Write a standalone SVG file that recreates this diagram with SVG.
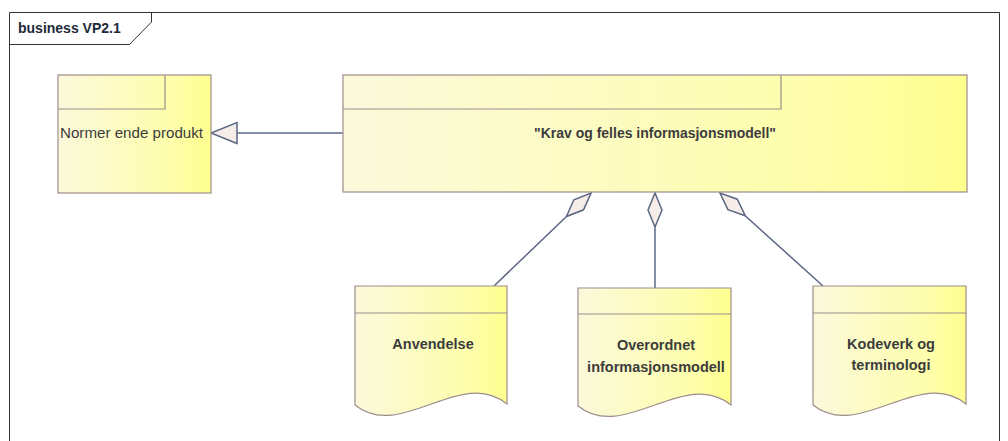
<svg xmlns="http://www.w3.org/2000/svg" width="1008" height="441" viewBox="0 0 1008 441">
<style>
.node{fill:url(#yel);stroke:#9e8c8c;stroke-width:1.2}
.ln{fill:none;stroke:#9e8c8c;stroke-width:1.2}
.con{fill:none;stroke:#5b6883;stroke-width:1.5}
.t{font-family:"Liberation Sans",Arial,sans-serif;fill:#3c3c3c;text-anchor:middle}
.b{font-weight:bold}
</style>
<defs>
<linearGradient id="yel" x1="0" y1="0" x2="1" y2="0">
<stop offset="0" stop-color="#fbf9db"/>
<stop offset="0.75" stop-color="#fefeac"/>
<stop offset="1" stop-color="#ffff8f"/>
</linearGradient>
<marker id="dia" viewBox="0 -8 35 16" refX="34" refY="0" markerWidth="35" markerHeight="16" markerUnits="userSpaceOnUse" orient="auto">
<path d="M0,0 L17,-7 L34,0 L17,7 Z" fill="#f6ece8" stroke="#5b6883" stroke-width="1.5"/>
</marker>
<marker id="gen" viewBox="-1 -12 29 24" refX="26" refY="0" markerWidth="29" markerHeight="24" markerUnits="userSpaceOnUse" orient="auto">
<path d="M0,-10.5 L26,0 L0,10.5 Z" fill="#f6ece8" stroke="#5b6883" stroke-width="1.5"/>
</marker>
</defs>
<rect width="1008" height="441" fill="#ffffff"/>
<g id="frame">
<path d="M9.5,445 V12.5 H999.5 V445" fill="none" stroke="#333333" stroke-width="1"/>
<path d="M9.5,44.5 H129.5 L151.5,22 V12.5" fill="none" stroke="#333333" stroke-width="1"/>
<text x="18" y="33" font-family="Liberation Sans,Arial,sans-serif" font-size="14" font-weight="bold" fill="#1e2a3a">business VP2.1</text>
</g>
<g id="connectors">
<line class="con" x1="343" y1="133" x2="211" y2="133" marker-end="url(#gen)"/>
<line class="con" x1="494" y1="286" x2="591" y2="193" marker-end="url(#dia)"/>
<line class="con" x1="655" y1="288" x2="655" y2="193" marker-end="url(#dia)"/>
<line class="con" x1="823" y1="286" x2="720" y2="193" marker-end="url(#dia)"/>
</g>
<g id="normerende">
<rect class="node" x="58" y="75" width="153" height="118"/>
<path class="ln" d="M58,109 H165 V75"/>
<text class="t" x="131.5" y="138" font-size="14" textLength="143" lengthAdjust="spacingAndGlyphs">Normer ende produkt</text>
</g>
<g id="krav">
<rect class="node" x="343" y="75" width="624" height="117"/>
<path class="ln" d="M343,109 H781 V75"/>
<text class="t b" x="655" y="138" font-size="14">"Krav og felles informasjonsmodell"</text>
</g>
<g id="anvendelse">
<path class="node" d="M355,286 H507 V404 C461.4,366 400.6,442 355,405 Z"/>
<line class="ln" x1="355" y1="313" x2="507" y2="313"/>
<text class="t b" x="433" y="349" font-size="14.5">Anvendelse</text>
</g>
<g id="overordnet">
<path class="node" d="M578,288 H731 V405 C685,367 624,443 578,406 Z"/>
<line class="ln" x1="578" y1="314" x2="731" y2="314"/>
<text class="t b" x="656" y="350" font-size="14.5">Overordnet</text>
<text class="t b" x="656" y="372" font-size="14.5">informasjonsmodell</text>
</g>
<g id="kodeverk">
<path class="node" d="M813,286 H966 V404 C920,366 859,442 813,405 Z"/>
<line class="ln" x1="813" y1="313" x2="966" y2="313"/>
<text class="t b" x="891" y="349" font-size="14.5">Kodeverk og</text>
<text class="t b" x="891" y="370" font-size="14.5">terminologi</text>
</g>
</svg>
